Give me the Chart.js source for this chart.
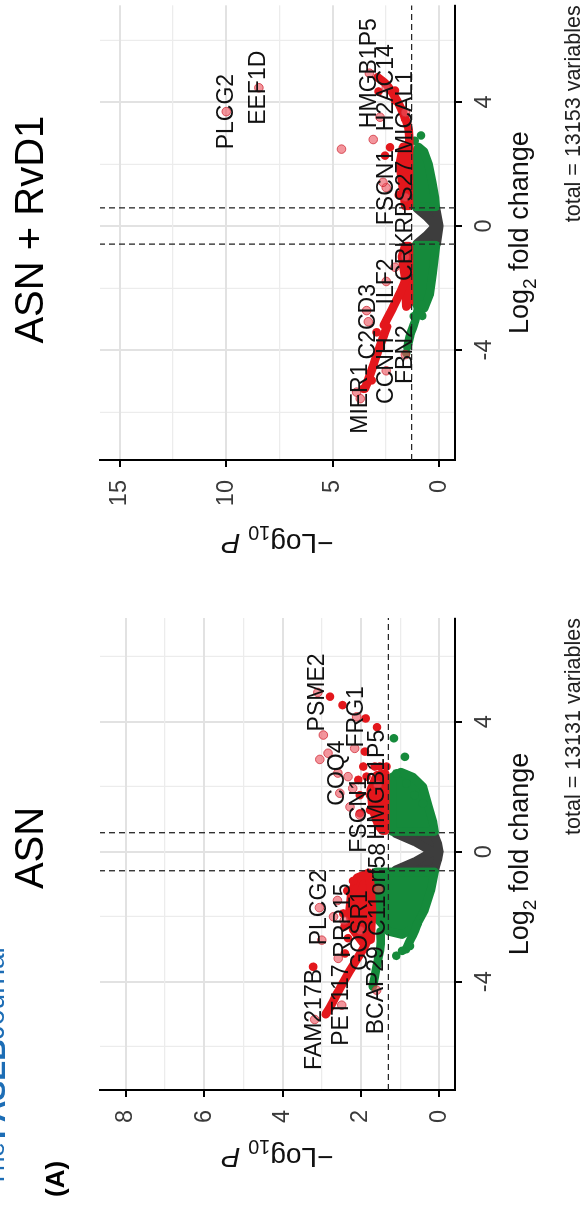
<!DOCTYPE html>
<html>
<head>
<meta charset="utf-8">
<title>Volcano plots: ASN and ASN + RvD1</title>
<script src="https://cdn.jsdelivr.net/npm/chart.js@4.4.1/dist/chart.umd.min.js"></script>
<style>
  html, body { margin: 0; padding: 0; background: #fff; }
  body { width: 586px; height: 1211px; position: relative; overflow: hidden; }
  /* the figure is laid out landscape and turned a quarter turn */
  #figure {
    position: absolute; left: 0; top: 0;
    width: 1211px; height: 586px;
    background: #fff;
    transform-origin: 0 0;
    transform: translateY(1211px) rotate(-90deg);
  }
  #figure canvas { position: absolute; top: 0; }
  #asn { left: 0; }
  #rvd1 { left: 611px; }
</style>
</head>
<body>
<div id="figure">
  <canvas id="asn" width="600" height="586" style="width:600px;height:586px"></canvas>
  <canvas id="rvd1" width="600" height="586" style="width:600px;height:586px"></canvas>
</div>
<script>
const FONT = '"Liberation Sans", Arial, Helvetica, sans-serif';
const RED = '#e3171c';
const PALE = 'rgba(236, 84, 96, 0.62)';
const PALE_EDGE = 'rgba(205, 40, 52, 0.75)';
const GREEN = '#158a3b';
const GREY = '#3d3d3d';

// cut-offs: |log2FC| > log2(1.5), P < 0.05
const fcCut = 0.585;
const pCut = 1.301;

// ---------- ASN ----------
const asnFcRange = [-7.33, 7.19];
const asnPRange = [-0.4, 8.66];
const asnFcTicks = [-6, -4, -2, 0, 2, 4, 6];
const asnPTicks = [0, 1, 2, 3, 4, 5, 6, 7, 8];

// dense clouds (outline of the packed points)
const asnGreyArea = [[0.56, 1.12], [0.3, 0.62], [0, 0.18], [-0.3, 0.62], [-0.56, 1.12], [-0.56, 0.12], [-0.25, 0.04], [0, 0], [0.25, 0.04], [0.56, 0.14]];
const asnGreenUp = [[0.62, 1.2], [1.5, 1.2], [2.3, 1.2], [2.45, 0.98], [2.3, 0.68], [2.0, 0.42], [1.4, 0.28], [0.9, 0.16], [0.62, 0.12]];
const asnGreenDown = [[-0.62, 1.62], [-1.0, 1.68], [-1.6, 1.66], [-2.1, 1.55], [-2.45, 1.3], [-2.55, 0.95], [-2.3, 0.6], [-1.8, 0.38], [-1.2, 0.22], [-0.62, 0.12]];
const asnGreenStreakA = [[-2.45, 1.5], [-2.9, 1.5], [-3.4, 1.58], [-3.85, 1.65], [-4.15, 1.7]];
const asnGreenStreakB = [[-2.2, 0.55], [-2.5, 0.65], [-2.8, 0.78], [-3.0, 0.85]];
const asnRedUp = [[0.65, 1.38], [1.4, 1.38], [2.4, 1.38], [2.35, 1.6], [1.9, 1.75], [1.3, 1.7], [0.8, 1.55], [0.65, 1.45]];
const asnRedDown = [[-0.65, 1.8], [-0.8, 2.1], [-1.3, 2.25], [-1.9, 2.3], [-2.4, 2.2], [-2.8, 1.95], [-2.7, 1.75], [-1.8, 1.72], [-1.0, 1.76]];
const asnRedArm = [[-2.6, 1.8], [-2.85, 1.88], [-3.3, 2.1], [-3.8, 2.35], [-4.3, 2.58], [-4.7, 2.75], [-5.0, 2.9]];

// single points
const asnGreenPts = [[2.92, 0.88], [3.49, 1.16], [2.41, 1.1], [2.1, 0.84], [1.74, 0.63], [1.49, 0.42], [-2.9, 0.75], [-3.05, 0.95], [-3.2, 1.1]];
const asnRedPts = [[4.77, 2.79], [4.51, 2.47], [4.1, 1.88], [3.83, 1.59], [3.08, 1.9], [2.62, 1.94], [2.21, 2.07], [2.31, 1.86], [2.05, 1.6], [1.74, 2.03], [1.74, 1.77], [1.18, 2.03], [1.28, 1.77], [1.38, 1.56], [2.62, 1.65], [1.08, 1.52], [2.62, 1.52], [2.62, 1.35], [2.0, 1.52], [0.98, 1.6], [0.77, 1.43], [-3.54, 3.22], [-3.13, 2.41], [-2.66, 2.33], [-2.3, 2.42], [-1.9, 2.45], [-1.2, 2.35], [-0.9, 2.2]];
const asnPalePts = [[3.59, 2.96], [2.84, 3.05], [3.03, 2.84], [3.18, 2.16], [2.31, 2.33], [1.95, 2.21], [1.38, 2.28], [1.8, 2.54], [-2.72, 3.0], [-3.28, 2.58], [-1.5, 2.6], [-2.0, 2.7]];

// labelled genes
const asnGeneNames = ['PSME2', 'FRG1', 'COQ4', 'HMGB1P5', 'FSCN1', 'C11orf58', 'PLCG2', 'RRP15', 'GOSR1', 'PET117', 'FAM217B', 'BCAP29'];
const asnGenePts = [[4.9, 3.1], [4.15, 2.11], [2.42, 2.59], [2.06, 1.57], [1.13, 2.03], [-1.16, 1.55], [-1.72, 3.06], [-2.12, 2.43], [-2.42, 2.02], [-4.72, 2.49], [-5.16, 3.18], [-4.26, 1.6]];

// ---------- ASN + RvD1 ----------
const rvFcRange = [-7.55, 7.12];
const rvPRange = [-0.74, 15.93];
const rvFcTicks = [-6, -4, -2, 0, 2, 4, 6];
const rvPTicks = [0, 2.5, 5, 7.5, 10, 12.5, 15];

const rvGreyArea = [[0.56, 1.04], [0.3, 0.6], [0, 0.17], [-0.3, 0.6], [-0.56, 1.04], [-0.56, 0.12], [0, 0], [0.56, 0.15]];
const rvGreenUp = [[0.62, 1.1], [1.5, 1.1], [2.35, 1.1], [2.55, 0.98], [2.4, 0.72], [2.0, 0.5], [1.4, 0.33], [0.9, 0.2], [0.62, 0.16]];
const rvGreenDown = [[-0.62, 1.1], [-1.5, 1.1], [-2.45, 1.1], [-2.75, 0.95], [-2.65, 0.7], [-2.2, 0.45], [-1.5, 0.3], [-0.9, 0.2], [-0.62, 0.15]];
const rvGreenStreak = [[-2.7, 1.0], [-3.1, 1.15], [-3.5, 1.35], [-3.9, 1.5]];
const rvRedUp = [[0.65, 1.42], [1.5, 1.42], [2.5, 1.42], [2.55, 1.7], [2.0, 1.85], [1.3, 1.72], [0.65, 1.6]];
const rvRedUpArm = [[2.5, 1.4], [3.16, 1.45], [3.8, 1.8], [4.3, 2.2], [4.58, 2.5], [4.8, 2.9]];
const rvRedDown = [[-0.65, 1.42], [-1.5, 1.42], [-2.5, 1.42], [-2.6, 1.55], [-1.7, 1.6], [-1.0, 1.75], [-0.65, 1.6]];
const rvRedDownArm = [[-1.6, 1.5], [-2.1, 1.8], [-2.6, 2.15], [-3.2, 2.6]];
const rvRedDownTail = [[-3.25, 2.45], [-3.8, 2.75], [-4.4, 3.05], [-5.0, 3.35], [-5.25, 3.5]];

const rvGreenPts = [[2.92, 0.86], [2.75, 1.15], [-2.54, 0.84], [-2.91, 1.19], [-4.1, 1.55], [-2.9, 0.8]];
const rvRedPts = [[4.05, 2.08], [4.37, 2.08], [3.73, 1.69], [3.46, 1.61], [2.54, 2.31], [2.27, 2.55], [-3.43, 2.94], [-4.98, 3.17], [-5.25, 3.57], [1.0, 1.9], [4.34, 2.85]];
const rvPalePts = [[2.48, 4.59], [3.51, 2.78], [2.79, 3.1], [1.41, 2.64], [-2.73, 3.41], [-1.33, 2.08], [-5.36, 3.88]];

const rvGeneNames = ['PLCG2', 'EEF1D', 'HMGB1P5', 'H2AC14', 'MICAL1', 'FSCN1', 'RPS27', 'CRK', 'ILF2', 'C2CD3', 'CCNH', 'FBN2', 'MIER1'];
const rvGenePts = [[3.69, 10.0], [4.46, 8.47], [4.93, 3.28], [4.46, 2.49], [3.66, 1.59], [1.24, 2.49], [0.93, 1.59], [-0.99, 1.59], [-1.79, 2.49], [-3.09, 3.33], [-4.67, 2.49], [-4.15, 1.59], [-5.57, 3.71]];

// ---------- helpers ----------
const xy = arr => arr.map(([x, y]) => ({ x, y }));
const DOT = 4.3;

function area(arr, color, order) {
  return {
    type: 'line', data: xy(arr.concat([arr[0]])), fill: 'shape',
    backgroundColor: color, borderColor: color, borderWidth: DOT * 2,
    borderJoinStyle: 'round', borderCapStyle: 'round',
    pointRadius: 0, tension: 0, order
  };
}
function streak(arr, color, order) {
  return {
    type: 'line', data: xy(arr), fill: false, borderColor: color,
    borderWidth: DOT * 2, borderJoinStyle: 'round', borderCapStyle: 'round',
    pointRadius: 0, tension: 0.3, order
  };
}
function dots(arr, color, order, edge) {
  return {
    type: 'scatter', data: xy(arr), backgroundColor: color,
    borderColor: edge || color, borderWidth: edge ? 1 : 0,
    pointRadius: DOT, order
  };
}
function cutLines(fcRange, pRange) {
  const dash = d => ({
    type: 'line', data: xy(d), borderColor: '#262626', borderWidth: 1.3,
    borderDash: [6, 4], pointRadius: 0, fill: false, order: 0
  });
  return [
    dash([[-fcCut, pRange[0]], [-fcCut, pRange[1]]]),
    dash([[fcCut, pRange[0]], [fcCut, pRange[1]]]),
    dash([[fcRange[0], pCut], [fcRange[1], pCut]])
  ];
}

function gridOpts(isMajor) {
  const major = c => c.tick ? isMajor(c.tick.value) : true;
  return {
    color: c => major(c) ? '#e2e2e2' : '#ececec',
    lineWidth: c => major(c) ? 2 : 1.2,
    drawTicks: true, tickLength: 7, tickWidth: 2,
    tickColor: c => major(c) ? '#000' : 'rgba(0,0,0,0)'
  };
}

function scalesFor(fcRange, pRange, fcTicks, pTicks, pMajor, yWidth) {
  const fcMajor = v => v % 4 === 0;
  const tickFont = { family: FONT, size: 23.5 };
  return {
    x: {
      type: 'linear', min: fcRange[0], max: fcRange[1],
      afterBuildTicks: s => { s.ticks = fcTicks.map(v => ({ value: v })); },
      afterFit: s => { s.height = 131; },
      ticks: { callback: v => fcMajor(v) ? String(v) : '', font: tickFont, color: '#3a3a3a', padding: 8, maxRotation: 0, autoSkip: false },
      grid: gridOpts(fcMajor),
      border: { display: true, color: '#000', width: 2 }
    },
    y: {
      type: 'linear', min: pRange[0], max: pRange[1],
      afterBuildTicks: s => { s.ticks = pTicks.map(v => ({ value: v })); },
      afterFit: s => { s.width = yWidth; },
      ticks: { callback: v => pMajor(v) ? String(v) : '', font: tickFont, color: '#3a3a3a', padding: 13, autoSkip: false },
      grid: gridOpts(pMajor),
      border: { display: true, color: '#000', width: 2 }
    }
  };
}

// text drawn in pieces so subscripts and italics can be mixed
function drawRich(ctx, parts, cx, y, size) {
  const fontOf = p => `${p.italic ? 'italic ' : ''}${p.sub ? Math.round(size * 0.72) : size}px ${FONT}`;
  let w = 0;
  parts.forEach(p => { ctx.font = fontOf(p); w += ctx.measureText(p.t).width; });
  let x = cx - w / 2;
  ctx.textAlign = 'left';
  ctx.textBaseline = 'alphabetic';
  parts.forEach(p => {
    ctx.font = fontOf(p);
    ctx.fillText(p.t, x, y + (p.sub ? size * 0.3 : 0));
    x += ctx.measureText(p.t).width;
  });
}

const xTitle = [{ t: 'Log' }, { t: '2', sub: true }, { t: ' fold change' }];
const yTitle = [{ t: '\u2212Log' }, { t: '10', sub: true }, { t: ' ' }, { t: 'P', italic: true }];

const panelText = {
  id: 'panelText',
  afterDatasetsDraw(chart, args, o) {
    const { ctx } = chart;
    const sx = chart.scales.x, sy = chart.scales.y;
    ctx.save();
    ctx.fillStyle = '#111';
    ctx.font = `23px ${FONT}`;
    ctx.textAlign = 'center';
    ctx.textBaseline = 'middle';
    o.genes.forEach((name, i) => {
      const [fc, p] = o.genePts[i];
      ctx.fillText(name, sx.getPixelForValue(fc), sy.getPixelForValue(p));
    });
    ctx.restore();
  },
  afterDraw(chart, args, o) {
    const { ctx, chartArea: a } = chart;
    const cx = (a.left + a.right) / 2;
    ctx.save();
    ctx.fillStyle = '#000';
    ctx.textAlign = 'center';
    ctx.textBaseline = 'alphabetic';
    ctx.font = `40px ${FONT}`;
    ctx.fillText(o.title, cx + o.titleShift, 43);

    ctx.fillStyle = '#111';
    drawRich(ctx, xTitle, cx, a.bottom + 73, 27);
    ctx.save();
    ctx.translate(a.left - o.yTitleGap, (a.top + a.bottom) / 2);
    ctx.rotate(-Math.PI / 2);
    drawRich(ctx, yTitle, 0, 0, 28);
    ctx.restore();

    ctx.font = `21.5px ${FONT}`;
    ctx.textAlign = 'right';
    ctx.fillStyle = '#222';
    ctx.fillText(o.caption, a.right, a.bottom + 125);

    if (o.tag) {
      ctx.textAlign = 'left';
      ctx.fillStyle = '#000';
      ctx.font = `bold 26px ${FONT}`;
      ctx.fillText(o.tag, 14, 64);
      // running head of the page, mostly cut off at the top edge
      ctx.fillStyle = '#1d6db5';
      ctx.font = `26px ${FONT}`;
      ctx.fillText('The', 24, 4);
      ctx.font = `bold 30px ${FONT}`;
      ctx.fillText('FASEB', 72, 5);
      ctx.font = `28px ${FONT}`;
      ctx.fillText('Journal', 172, 4);
    }
    ctx.restore();
  }
};

function volcano(canvasId, cfg) {
  return new Chart(document.getElementById(canvasId), {
    type: 'scatter',
    data: { datasets: cfg.datasets },
    options: {
      responsive: false,
      animation: false,
      devicePixelRatio: 1,
      layout: { padding: cfg.padding },
      scales: cfg.scales,
      plugins: {
        legend: { display: false },
        tooltip: { enabled: false },
        panelText: cfg.text
      }
    },
    plugins: [panelText]
  });
}

volcano('asn', {
  padding: { left: 41, right: 7, top: 100, bottom: 0 },
  scales: scalesFor(asnFcRange, asnPRange, asnFcTicks, asnPTicks, v => v % 2 === 0, 80),
  datasets: [
    ...cutLines(asnFcRange, asnPRange),
    dots(asnPalePts, PALE, 1, PALE_EDGE),
    dots(asnGenePts, PALE, 1, PALE_EDGE),
    dots(asnRedPts, RED, 1),
    streak(asnRedArm, RED, 1),
    area(asnRedUp, RED, 1),
    area(asnRedDown, RED, 1),
    dots(asnGreenPts, GREEN, 2),
    streak(asnGreenStreakA, GREEN, 2),
    streak(asnGreenStreakB, GREEN, 2),
    area(asnGreenUp, GREEN, 2),
    area(asnGreenDown, GREEN, 2),
    area(asnGreyArea, GREY, 3)
  ],
  text: {
    title: 'ASN', titleShift: 6, yTitleGap: 58,
    caption: 'total = 13131 variables',
    genes: asnGeneNames, genePts: asnGenePts, tag: '(A)'
  }
});

volcano('rvd1', {
  padding: { left: 40, right: 5, top: 100, bottom: 0 },
  scales: scalesFor(rvFcRange, rvPRange, rvFcTicks, rvPTicks, v => v % 5 === 0, 100),
  datasets: [
    ...cutLines(rvFcRange, rvPRange),
    dots(rvPalePts, PALE, 1, PALE_EDGE),
    dots(rvGenePts, PALE, 1, PALE_EDGE),
    dots(rvRedPts, RED, 1),
    streak(rvRedUpArm, RED, 1),
    streak(rvRedDownArm, RED, 1),
    streak(rvRedDownTail, RED, 1),
    area(rvRedUp, RED, 1),
    area(rvRedDown, RED, 1),
    dots(rvGreenPts, GREEN, 2),
    streak(rvGreenStreak, GREEN, 2),
    area(rvGreenUp, GREEN, 2),
    area(rvGreenDown, GREEN, 2),
    area(rvGreyArea, GREY, 3)
  ],
  text: {
    title: 'ASN + RvD1', titleShift: 3, yTitleGap: 74,
    caption: 'total = 13153 variables',
    genes: rvGeneNames, genePts: rvGenePts, tag: null
  }
});
</script>
</body>
</html>
